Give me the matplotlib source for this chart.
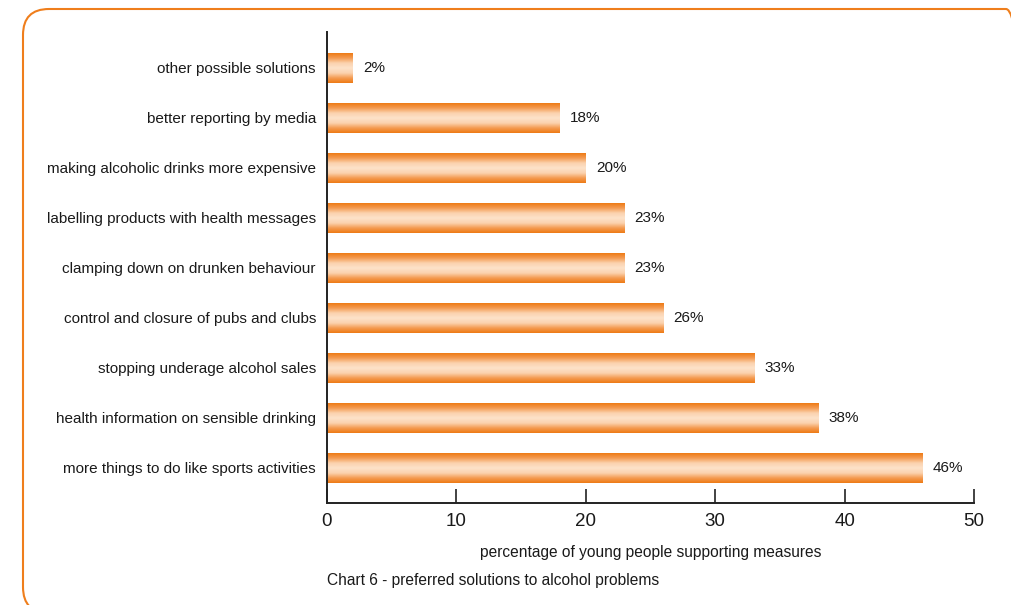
import matplotlib
matplotlib.use("Agg")
import matplotlib.pyplot as plt
import numpy as np
from matplotlib.colors import LinearSegmentedColormap
from matplotlib.patches import FancyBboxPatch
from matplotlib.transforms import IdentityTransform, offset_copy

plt.rcParams['font.family'] = ['Liberation Sans', 'DejaVu Sans']

categories = [
    "more things to do like sports activities",
    "health information on sensible drinking",
    "stopping underage alcohol sales",
    "control and closure of pubs and clubs",
    "clamping down on drunken behaviour",
    "labelling products with health messages",
    "making alcoholic drinks more expensive",
    "better reporting by media",
    "other possible solutions",
]
values = [46, 38, 33, 26, 23, 23, 20, 18, 2]
xticks = [0, 10, 20, 30, 40, 50]
xlabel = "percentage of young people supporting measures"
caption = "Chart 6 - preferred solutions to alcohol problems"

W, H = 1011, 605
fig = plt.figure(figsize=(W / 100, H / 100), dpi=100)
fig.patch.set_facecolor("white")

# rounded orange frame (pixel coordinates)
frame = FancyBboxPatch((23, -8), 1032 - 23, (H - 9) + 8,
                       boxstyle="round,pad=0,rounding_size=26",
                       transform=IdentityTransform(), fill=False,
                       edgecolor="#EF7E1C", linewidth=1.5)
fig.patches.append(frame)

ax = fig.add_axes([327 / W, 102 / H, (974 - 327) / W, (573 - 102) / H])

y = np.arange(len(categories))
bars = ax.barh(y, values, height=0.6, color="none", edgecolor="none")

cmap = LinearSegmentedColormap.from_list(
    "og", ["#EE7A14", "#F49B52", "#FBD2AE", "#FDE2CA", "#FBD2AE", "#F49B52", "#EE7A14"])
grad = np.linspace(0, 1, 256).reshape(-1, 1)
for b in bars:
    x0, y0 = b.get_x(), b.get_y()
    w, h = b.get_width(), b.get_height()
    ax.imshow(grad, cmap=cmap, aspect="auto",
              extent=(x0, x0 + w, y0, y0 + h), origin="lower",
              interpolation="bilinear", zorder=2)
ax.set_xlim(0, 50)
ax.set_ylim(-0.7, 8.72)

for yi, v in zip(y, values):
    ax.text(v, yi, f"{v}%", fontsize=11, va="center", ha="left",
            transform=offset_copy(ax.transData, fig=fig, x=10, y=0, units="dots"),
            color="#1a1a1a")

ax.set_yticks(y)
ax.set_yticklabels(categories, fontsize=11, color="#1a1a1a")
ax.tick_params(axis="y", length=0, pad=8)
ax.set_xticks(xticks)
ax.set_xticklabels([str(t) for t in xticks], fontsize=13.5, color="#1a1a1a")
ax.tick_params(axis="x", direction="in", length=10, width=1.2, pad=7,
               color="#222222")

for s in ["top", "right"]:
    ax.spines[s].set_visible(False)
for s in ["left", "bottom"]:
    ax.spines[s].set_linewidth(1.4)
    ax.spines[s].set_color("#222222")

fig.text(651 / W, 1 - 552 / H, xlabel, fontsize=11.2, ha="center",
         va="center", color="#1a1a1a")
fig.text(327 / W, 1 - 580 / H, caption, fontsize=11.2, ha="left",
         va="center", color="#1a1a1a")

fig.savefig("out.png", dpi=100, facecolor="white")
